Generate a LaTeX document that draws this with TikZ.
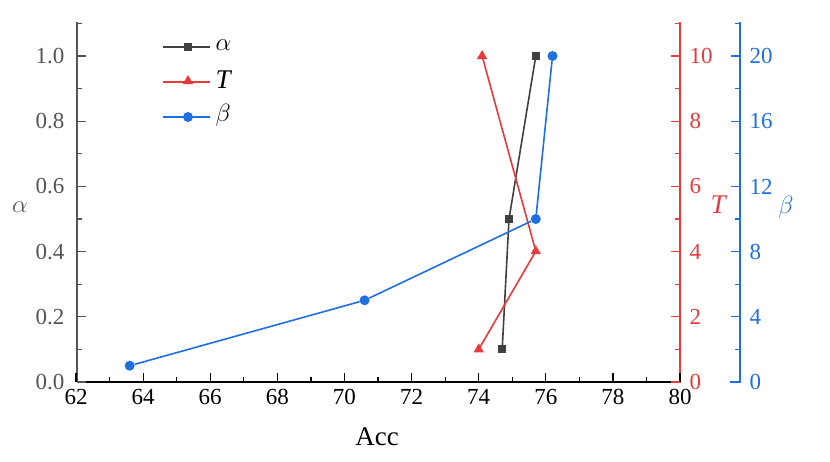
\documentclass[tikz,border=0pt]{standalone}
\usepackage{fontspec}
\setmainfont{Liberation Serif}
\usetikzlibrary{shapes.geometric}
\begin{document}
\begin{tikzpicture}[x=1pt,y=-1pt,
 lab/.style={font=\fontsize{23}{25}\selectfont},
 big/.style={font=\fontsize{27}{29}\selectfont},
 gr/.style={draw=agray,line width=1.6pt},
 sq/.style={fill=agray,minimum size=8pt,inner sep=0pt},
 tri/.style={fill=ared,regular polygon,regular polygon sides=3,minimum size=12pt,inner sep=0pt},
 dot/.style={fill=ablue,circle,minimum size=10pt,inner sep=0pt}]
\definecolor{agray}{HTML}{404040}
\definecolor{ared}{HTML}{E8393B}
\definecolor{ablue}{HTML}{1F6FE0}
\definecolor{tgray}{HTML}{555555}
\useasboundingbox (0,0) rectangle (830,461);
% axes
\draw[tgray,line width=1.6pt] (77,22) -- (77,382);
\draw[black,line width=1.6pt] (77,382) -- (680,382);
\draw[ared,line width=1.6pt] (672,382) -- (680,382) -- (680,22);
\draw[ablue,line width=1.6pt] (730,382) -- (740,382) -- (740,22);
% x ticks
\foreach \v in {62,64,...,80}{
 \pgfmathsetmacro\xx{76+(\v-62)*33.56}
 \draw[line width=1.2pt] (\xx,382) -- (\xx,373);
 \node[lab,anchor=north] at (\xx,386) {\v};}
\foreach \v in {63,65,...,79}{
 \pgfmathsetmacro\xx{76+(\v-62)*33.56}
 \draw[line width=1.2pt] (\xx,382) -- (\xx,377);}
% left ticks
\foreach \v/\t in {0/0.0,1/0.2,2/0.4,3/0.6,4/0.8,5/1.0}{
 \pgfmathsetmacro\yy{382-\v*65.2}
 \draw[tgray,line width=1.2pt] (77,\yy) -- (86,\yy);
 \node[lab,text=tgray,anchor=east] at (68,\yy) {\t};
 \draw[tgray,line width=1.2pt] (77,\yy-32.6) -- (82,\yy-32.6);}
% red ticks
\foreach \v in {0,2,...,10}{
 \pgfmathsetmacro\yy{382-\v*32.6}
 \draw[ared,line width=1.2pt] (680,\yy) -- (671,\yy);
 \node[lab,text=ared,anchor=west] at (686,\yy) {\v};
 \draw[ared,line width=1.2pt] (680,\yy-32.6) -- (675,\yy-32.6);}
% blue ticks
\foreach \v in {0,4,...,20}{
 \pgfmathsetmacro\yy{382-\v*16.3}
 \draw[ablue,line width=1.2pt] (740,\yy) -- (731,\yy);
 \node[lab,text=ablue,anchor=west] at (746,\yy) {\v};
 \draw[ablue,line width=1.2pt] (740,\yy-32.6) -- (735,\yy-32.6);}
% labels
\node[big,text=tgray] (la) at (20,207) {$\alpha$};
\node[big,text=ared] (lt) at (719,205) {\textit{T}};
\node[big,text=ablue] (lb) at (786,207) {$\beta$};
\node[big] (lacc) at (377,437) {Acc};
% data
\node[sq] (a1) at (502.2,349.3) {}; \node[sq] (a2) at (509,219) {}; \node[sq] (a3) at (535.8,56) {};
\draw[gr] (a1) -- (a2) -- (a3);
\node[tri] (t1) at (478.7,349.4) {}; \node[tri] (t2) at (535.8,251.2) {}; \node[tri] (t3) at (482.1,56) {};
\draw[ared,line width=1.6pt] (t1.center) -- (t2.center) -- (t3.center);
\node[dot] (b1) at (129.7,365.7) {}; \node[dot] (b2) at (364.6,300.3) {}; \node[dot] (b3) at (535.8,219) {}; \node[dot] (b4) at (552.5,56) {};
\draw[ablue,line width=1.6pt] (b1) -- (b2) -- (b3) -- (b4);
% legend
\coordinate (l1a) at (163,47); \coordinate (l1b) at (210,47);
\draw[gr] (l1a) -- (l1b); \node[sq] (m1) at (188,47) {};
\node[big,anchor=west] (n1) at (212,45) {$\alpha$};
\coordinate (l2a) at (163,82); \coordinate (l2b) at (210,82);
\draw[ared,line width=1.6pt] (l2a) -- (l2b); \node[tri] (m2) at (188,81) {};
\node[big,anchor=west] (n2) at (212,80) {\textit{T}};
\coordinate (l3a) at (163,117); \coordinate (l3b) at (210,117);
\draw[ablue,line width=1.6pt] (l3a) -- (l3b); \node[dot] (m3) at (188,117) {};
\node[big,anchor=west] (n3) at (212,115) {$\beta$};
\end{tikzpicture}
\end{document}
